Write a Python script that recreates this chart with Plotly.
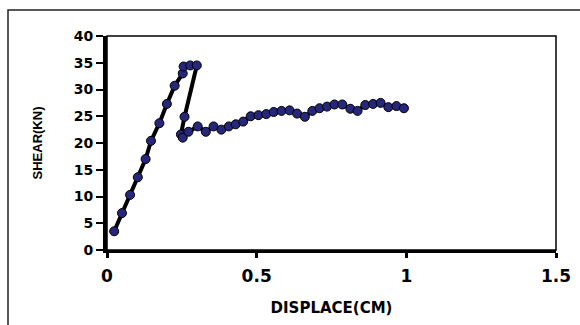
import plotly.graph_objects as go

# Load-displacement data
displacement_cm = [0.024, 0.050, 0.077, 0.103, 0.129, 0.147, 0.175, 0.200, 0.226, 0.253,
                   0.256, 0.278, 0.300, 0.259, 0.247, 0.253, 0.272, 0.303, 0.330, 0.356,
                   0.382, 0.407, 0.430, 0.455, 0.480, 0.506, 0.532, 0.557, 0.583, 0.610,
                   0.635, 0.661, 0.686, 0.710, 0.735, 0.760, 0.786, 0.813, 0.837, 0.863,
                   0.889, 0.914, 0.940, 0.967, 0.992]
shear_kn = [3.5, 6.9, 10.3, 13.6, 17.0, 20.4, 23.7, 27.3, 30.7, 33.0,
            34.3, 34.5, 34.5, 24.9, 21.6, 21.0, 22.1, 23.1, 22.1, 23.1,
            22.5, 23.1, 23.5, 24.0, 25.0, 25.2, 25.4, 25.8, 26.0, 26.1,
            25.5, 24.9, 26.0, 26.5, 26.8, 27.2, 27.2, 26.4, 26.0, 27.1,
            27.3, 27.5, 26.7, 26.9, 26.5]

x_ticks = [0, 0.5, 1, 1.5]
x_tick_labels = ["0", "0.5", "1", "1.5"]
y_ticks = [0, 5, 10, 15, 20, 25, 30, 35, 40]

x_title = "DISPLACE(CM)"
y_title = "SHEAR(KN)"

fig = go.Figure()
fig.add_trace(go.Scatter(
    x=displacement_cm, y=shear_kn, mode="lines+markers",
    line=dict(color="black", width=4),
    marker=dict(size=9, color="#26267a", line=dict(color="black", width=1)),
    showlegend=False, cliponaxis=False,
))

W, H = 580, 325
ml, mr, mt, mb = 107, 24, 36, 75
pw, ph = W - ml - mr, H - mt - mb

fig.update_layout(
    width=W, height=H,
    margin=dict(l=ml, r=mr, t=mt, b=mb, autoexpand=False),
    paper_bgcolor="white", plot_bgcolor="white",
    xaxis=dict(
        range=[0, 1.5], tickvals=x_ticks, ticktext=x_tick_labels,
        showline=True, linecolor="black", linewidth=3,
        ticks="outside", ticklen=5, tickwidth=3, tickcolor="black",
        ticklabelstandoff=4,
        showgrid=False, zeroline=False,
        tickfont=dict(family="DejaVu Sans", size=17, color="black", weight="bold"),
        title=dict(text=x_title, standoff=18,
                   font=dict(family="DejaVu Sans", size=15, color="black", weight="bold")),
    ),
    yaxis=dict(
        range=[0, 40], tickvals=y_ticks,
        showline=True, linecolor="black", linewidth=4,
        ticks="outside", ticklen=7, tickwidth=2, tickcolor="black",
        showgrid=False, zeroline=False,
        tickfont=dict(family="DejaVu Sans", size=14, color="black", weight="bold"),
        title=dict(text=y_title, standoff=29,
                   font=dict(family="Liberation Sans", size=13, color="black", weight="bold")),
    ),
    shapes=[
        dict(type="rect", xref="paper", yref="paper", x0=0, x1=1, y0=0, y1=1,
             line=dict(color="black", width=1.5), layer="below"),
        dict(type="rect", xref="paper", yref="paper",
             x0=(8 - ml) / pw, x1=1.3, y0=-0.6, y1=(H - mb - 10) / ph,
             line=dict(color="#222222", width=1.5), layer="below"),
    ],
)

fig.write_html("out.html")
